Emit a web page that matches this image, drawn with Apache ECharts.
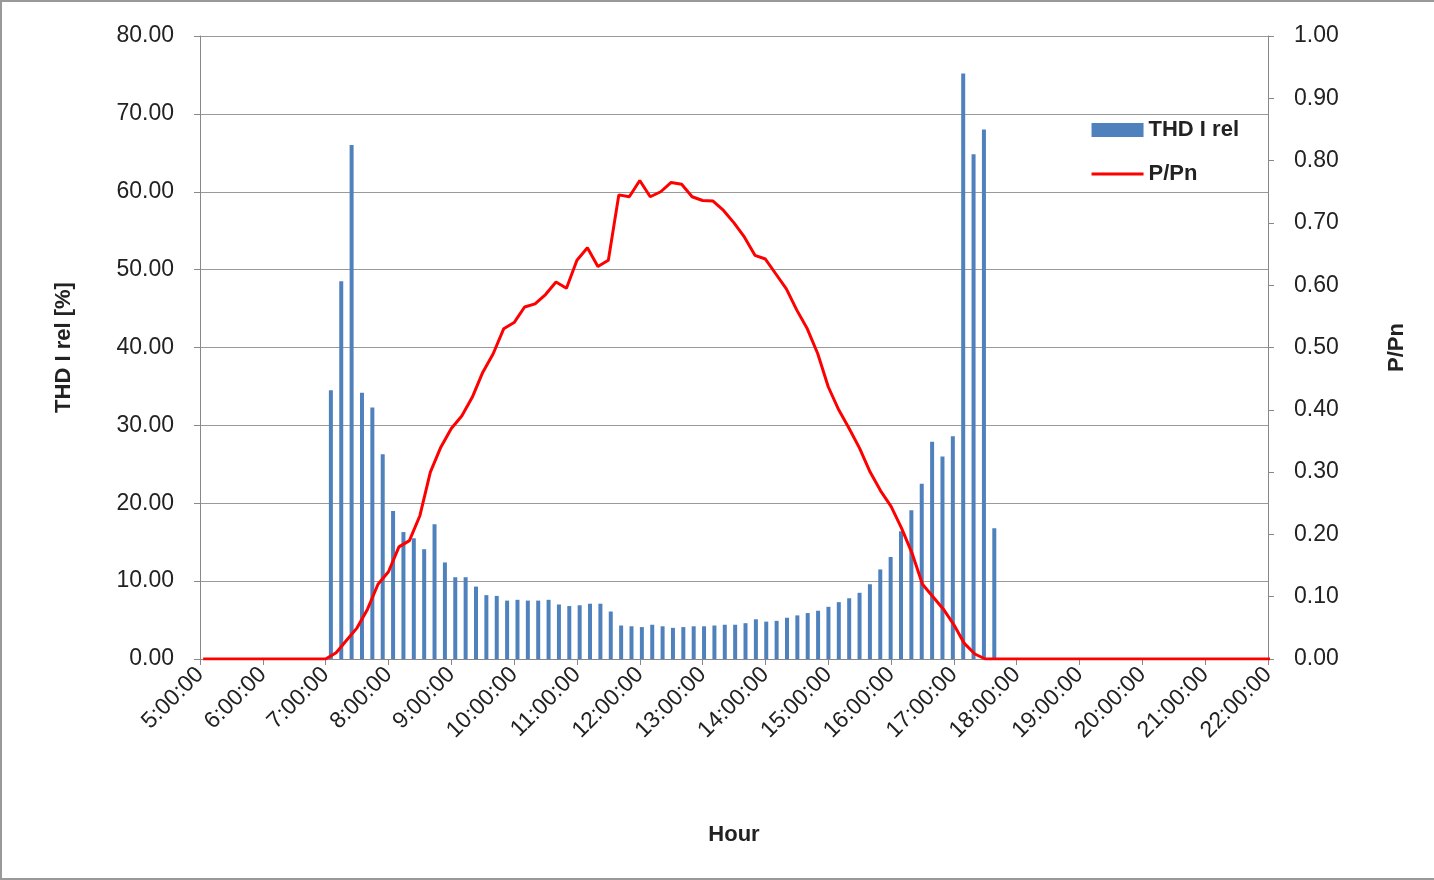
<!DOCTYPE html>
<html>
<head>
<meta charset="utf-8">
<script src="https://cdn.jsdelivr.net/npm/echarts@6/dist/echarts.min.js"></script>
<style>
html,body{margin:0;padding:0;background:#fff;}
#chart{width:1434px;height:880px;box-sizing:border-box;border:2px solid #999;border-right:none;}
</style>
</head>
<body>
<div id="chart"></div>
<script>
// THD I rel bars, every 10 min starting 7:05
var thdStart = 7 + 5 / 60;
var thdStep = 9.9 / 60;
var thdValues = [34.5, 48.5, 66.0, 34.2, 32.3, 26.3,
  19.0, 16.3, 15.5, 14.1, 17.3, 12.4,
  10.5, 10.5, 9.3, 8.2, 8.1, 7.5,
  7.6, 7.5, 7.5, 7.6, 7.0, 6.8,
  6.9, 7.1, 7.1, 6.1, 4.3, 4.2,
  4.1, 4.4, 4.2, 4.0, 4.1, 4.2,
  4.2, 4.3, 4.4, 4.4, 4.6,
  5.1, 4.8, 4.9, 5.3, 5.6, 5.9,
  6.2, 6.7, 7.3, 7.8, 8.5, 9.6,
  11.5, 13.1, 16.4, 19.1, 22.5, 27.9,
  26.0, 28.6, 75.2, 64.8, 68.0, 16.8];

// P/Pn line, every 10 min from 7:00 to 17:30
var pStart = 7;
var pValues = [0, 0.01, 0.03, 0.05, 0.08, 0.12,
  0.14, 0.18, 0.19, 0.23, 0.30, 0.34,
  0.37, 0.39, 0.42, 0.46, 0.49, 0.53,
  0.54, 0.565, 0.57, 0.585, 0.605, 0.595,
  0.64, 0.66, 0.63, 0.64, 0.745, 0.742,
  0.768, 0.742, 0.75, 0.765, 0.762, 0.742,
  0.736, 0.735, 0.72, 0.70, 0.677, 0.648,
  0.642, 0.618, 0.594, 0.56, 0.53, 0.49,
  0.437, 0.40, 0.37, 0.338, 0.30, 0.27,
  0.245, 0.21, 0.17, 0.12, 0.10, 0.08,
  0.055, 0.025, 0.008, 0];

var thdData = [];
for (var i = 0; i < thdValues.length; i++) {
  thdData.push([thdStart + i * thdStep, thdValues[i]]);
}
var pData = [[5.05, 0]];
for (var j = 0; j < pValues.length; j++) {
  pData.push([pStart + j / 6, pValues[j]]);
}
pData.push([22.05, 0]);

var font = 'Liberation Sans';
var myChart = echarts.init(document.getElementById('chart'));
var option = {
  animation: false,
  grid: {left: 198, right: 166, top: 34, bottom: 219},
  legend: {
    right: 190, top: 112, orient: 'vertical', itemGap: 22,
    itemWidth: 52, itemHeight: 14,
    textStyle: {fontFamily: font, fontSize: 22, fontWeight: 'bold', color: '#222'},
    data: [{name: 'THD I rel', icon: 'rect'}, {name: 'P/Pn', icon: 'path://M0,6H52V9H0Z'}]
  },
  xAxis: {
    type: 'value', min: 5, max: 22, interval: 1,
    name: 'Hour', nameLocation: 'middle', nameGap: 165,
    nameTextStyle: {fontFamily: font, fontSize: 22, fontWeight: 'bold', color: '#222'},
    axisLine: {lineStyle: {color: '#888'}},
    axisTick: {show: true, length: 6, lineStyle: {color: '#888'}},
    splitLine: {show: false},
    axisLabel: {
      rotate: 45, fontFamily: font, fontSize: 23, color: '#222', margin: 12,
      formatter: function (v) { return v + ':00:00'; }
    }
  },
  yAxis: [{
    type: 'value', min: 0, max: 80, interval: 10,
    name: 'THD I rel [%]', nameLocation: 'middle', nameGap: 125, nameRotate: 90,
    nameTextStyle: {fontFamily: font, fontSize: 22, fontWeight: 'bold', color: '#222'},
    axisLine: {show: true, lineStyle: {color: '#888'}},
    axisTick: {show: true, length: 6, lineStyle: {color: '#888'}},
    splitLine: {lineStyle: {color: '#999'}},
    axisLabel: {fontFamily: font, fontSize: 23, color: '#222', margin: 26,
      formatter: function (v) { return v.toFixed(2); }}
  }, {
    type: 'value', min: 0, max: 1, interval: 0.1,
    name: 'P/Pn', nameLocation: 'middle', nameGap: 118, nameRotate: 90,
    nameTextStyle: {fontFamily: font, fontSize: 22, fontWeight: 'bold', color: '#222'},
    axisLine: {show: true, lineStyle: {color: '#888'}},
    axisTick: {show: true, length: 6, lineStyle: {color: '#888'}},
    splitLine: {show: false},
    axisLabel: {fontFamily: font, fontSize: 23, color: '#222', margin: 26,
      formatter: function (v) { return v.toFixed(2); }}
  }],
  series: [{
    name: 'THD I rel', type: 'bar', yAxisIndex: 0, data: thdData,
    barWidth: 4, itemStyle: {color: '#4f81bd'}
  }, {
    name: 'P/Pn', type: 'line', yAxisIndex: 1, data: pData,
    showSymbol: false, lineStyle: {color: '#ff0000', width: 3}, itemStyle: {color: '#ff0000'}
  }]
};
myChart.setOption(option);
</script>
</body>
</html>
